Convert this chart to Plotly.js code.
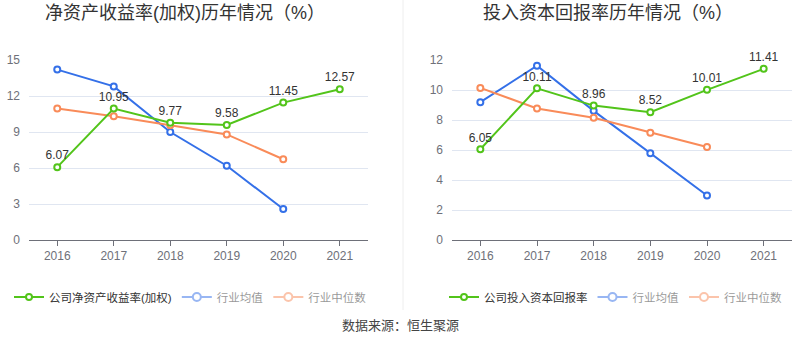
<!DOCTYPE html>
<html>
<head>
<meta charset="utf-8">
<script src="https://cdn.plot.ly/plotly-3.0.1.min.js"></script>
<style>html,body{margin:0;padding:0;background:#fff;}#chart{width:800px;height:358px;}</style>
</head>
<body>
<div id="chart"></div>
<script>
var years = ['2016', '2017', '2018', '2019', '2020', '2021'];
var roeCompany = [6.07, 10.95, 9.77, 9.58, 11.45, 12.57];
var roeIndustryMean = [14.2, 12.8, 9.0, 6.19, 2.58];
var roeIndustryMedian = [10.95, 10.31, 9.57, 8.8, 6.73];
var roicCompany = [6.05, 10.11, 8.96, 8.52, 10.01, 11.41];
var roicIndustryMean = [9.19, 11.62, 8.61, 5.78, 2.97];
var roicIndustryMedian = [10.14, 8.77, 8.15, 7.15, 6.2];

var leftTitle = '净资产收益率(加权)历年情况（%）';
var rightTitle = '投入资本回报率历年情况（%）';
var nameRoe = '公司净资产收益率(加权)';
var nameRoic = '公司投入资本回报率';
var nameMean = '行业均值';
var nameMedian = '行业中位数';
var sourceText = '数据来源：恒生聚源';

var GREEN = '#52c41a', BLUE = '#3470e8', ORANGE = '#f98b59';
var FONT = 'Liberation Sans, Noto Sans CJK SC, sans-serif';

function series(x, y, color, name, xa, ya, lg, withText, showLeg) {
  var t = {
    type: 'scatter', mode: withText ? 'lines+markers+text' : 'lines+markers',
    x: x, y: y, name: name, xaxis: xa, yaxis: ya, legend: lg,
    showlegend: showLeg,
    line: {color: color, width: 2},
    marker: {symbol: 'circle', size: 6, color: '#fff', line: {color: color, width: 2}},
    cliponaxis: false, hoverinfo: 'skip'
  };
  if (withText) {
    t.text = y.map(function (v) { return v.toFixed(2); });
    t.textposition = 'top center';
    t.textfont = {family: FONT, size: 12, color: '#333'};
  }
  return t;
}
// faded legend entries (legend-only copies of the industry series)
function legendOnly(x, y, color, name, xa, ya, lg) {
  return {
    type: 'scatter', mode: 'lines+markers', x: x, y: y, name: name,
    legend: lg, visible: 'legendonly', xaxis: xa, yaxis: ya, showlegend: true,
    line: {color: color, width: 2},
    marker: {symbol: 'circle', size: 8, color: '#fff', line: {color: color, width: 2}}
  };
}

var data = [
  series(years.slice(0, 5), roeIndustryMean, BLUE, nameMean, 'x', 'y', 'legend', false, false),
  series(years.slice(0, 5), roeIndustryMedian, ORANGE, nameMedian, 'x', 'y', 'legend', false, false),
  series(years, roeCompany, GREEN, nameRoe, 'x', 'y', 'legend', true, true),
  legendOnly(years.slice(0, 5), roeIndustryMean, BLUE, nameMean, 'x', 'y', 'legend'),
  legendOnly(years.slice(0, 5), roeIndustryMedian, ORANGE, nameMedian, 'x', 'y', 'legend'),
  series(years.slice(0, 5), roicIndustryMean, BLUE, nameMean, 'x2', 'y2', 'legend2', false, false),
  series(years.slice(0, 5), roicIndustryMedian, ORANGE, nameMedian, 'x2', 'y2', 'legend2', false, false),
  series(years, roicCompany, GREEN, nameRoic, 'x2', 'y2', 'legend2', true, true),
  legendOnly(years.slice(0, 5), roicIndustryMean, BLUE, nameMean, 'x2', 'y2', 'legend2'),
  legendOnly(years.slice(0, 5), roicIndustryMedian, ORANGE, nameMedian, 'x2', 'y2', 'legend2')
];

var H = 358;
function py(p) { return (H - p) / H; }
function xAxis(domain, anchor) {
  return {
    domain: domain, type: 'category', categoryorder: 'array', categoryarray: years, anchor: anchor,
    range: [-0.5, 5.5], showgrid: false, zeroline: false,
    showline: true, linecolor: '#6e7079', linewidth: 1,
    ticks: 'outside', ticklen: 5, tickcolor: '#6e7079',
    tickfont: {family: FONT, size: 12, color: '#6e7079'}, fixedrange: true
  };
}
function yAxis(domain, max, dtick, anchor) {
  return {
    domain: domain, range: [0, max], dtick: dtick, tick0: 0, anchor: anchor,
    showgrid: true, gridcolor: '#e0e6f1', gridwidth: 1, zeroline: false, showline: false,
    ticks: '', ticklabelstandoff: 8,
    tickfont: {family: FONT, size: 12, color: '#6e7079'}, fixedrange: true
  };
}

var layout = {
  width: 800, height: 358,
  margin: {l: 0, r: 0, t: 0, b: 0},
  paper_bgcolor: '#fff', plot_bgcolor: '#fff',
  font: {family: FONT, color: '#333'},
  xaxis: xAxis([29 / 800, 368 / 800], 'y'),
  yaxis: yAxis([py(240), py(60)], 15, 3, 'x'),
  xaxis2: xAxis([452 / 800, 792 / 800], 'y2'),
  yaxis2: yAxis([py(240), py(60)], 12, 2, 'x2'),
  legend: {
    orientation: 'h', x: 9 / 800, xanchor: 'left', y: py(297), yanchor: 'middle',
    font: {family: FONT, size: 11.5, color: '#333'}, itemwidth: 30, bgcolor: 'rgba(0,0,0,0)',
    itemclick: false, itemdoubleclick: false, traceorder: 'normal'
  },
  legend2: {
    orientation: 'h', x: 444 / 800, xanchor: 'left', y: py(297), yanchor: 'middle',
    font: {family: FONT, size: 11.5, color: '#333'}, itemwidth: 30, bgcolor: 'rgba(0,0,0,0)',
    itemclick: false, itemdoubleclick: false, traceorder: 'normal'
  },
  shapes: [{
    type: 'line', xref: 'paper', yref: 'paper', x0: 403 / 800, x1: 403 / 800,
    y0: py(310), y1: 1, line: {color: '#eeeeee', width: 1}
  }],
  annotations: [
    {text: leftTitle, xref: 'paper', yref: 'paper', x: 185 / 800, y: py(13), xanchor: 'center', yanchor: 'middle',
     showarrow: false, font: {family: FONT, size: 18, color: '#333'}},
    {text: rightTitle, xref: 'paper', yref: 'paper', x: 608 / 800, y: py(13), xanchor: 'center', yanchor: 'middle',
     showarrow: false, font: {family: FONT, size: 18, color: '#333'}},
    {text: sourceText, xref: 'paper', yref: 'paper', x: 400 / 800, y: py(325), xanchor: 'center', yanchor: 'middle',
     showarrow: false, font: {family: FONT, size: 13, color: '#444'}}
  ]
};

Plotly.newPlot('chart', data, layout, {staticPlot: true, displayModeBar: false});
</script>
</body>
</html>
